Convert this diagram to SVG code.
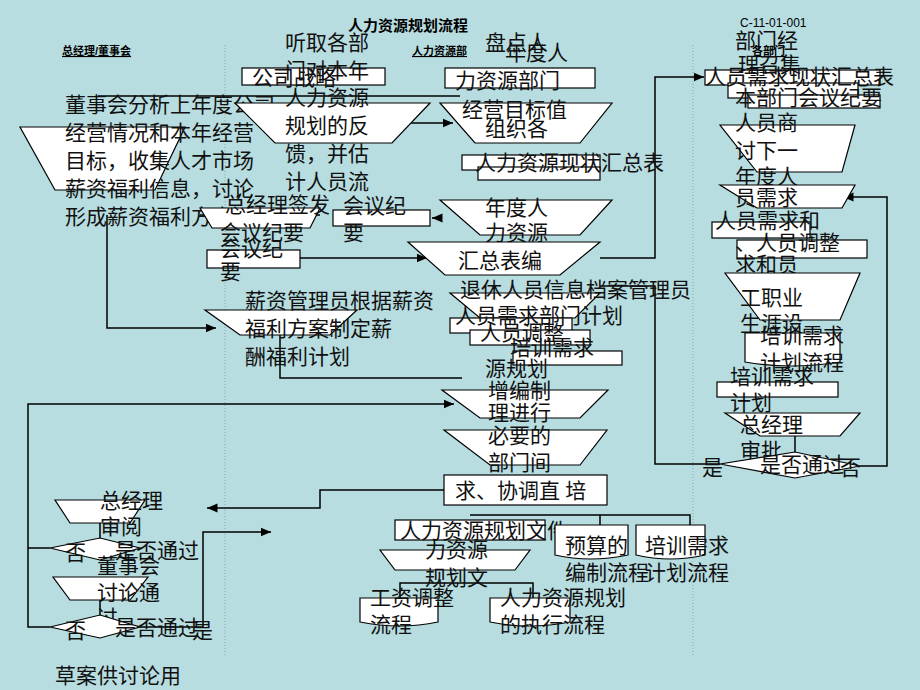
<svg xmlns="http://www.w3.org/2000/svg" width="920" height="690" viewBox="0 0 920 690">
<style>
.s{fill:#fff;stroke:#000;stroke-width:1.2}
.l{fill:none;stroke:#000;stroke-width:1.5}
.t{font-family:"Liberation Serif","Noto Sans CJK SC",serif;font-size:21px;fill:#111}
.h{font-family:"Liberation Sans","Noto Sans CJK SC",sans-serif;font-size:11px;font-weight:bold;text-decoration:underline}
.d{stroke:#8aa;stroke-width:1;stroke-dasharray:1 2}
</style>
<defs><marker id="a" markerWidth="8" markerHeight="8" refX="7" refY="4" orient="auto"><path d="M0,1 L7,4 L0,7z"/></marker></defs>
<rect width="920" height="690" fill="#b7dde0"/>
<line class="d" x1="225" y1="45" x2="225" y2="655"/>
<line class="d" x1="693" y1="45" x2="693" y2="655"/>
<text x="348" y="31" font-family="Liberation Sans,Noto Sans CJK SC,sans-serif" font-size="15" font-weight="bold">人力资源规划流程</text>
<text x="740" y="27" font-family="Liberation Sans,sans-serif" font-size="12">C-11-01-001</text>
<text class="h" x="62" y="55">总经理/董事会</text>
<text class="h" x="412" y="55">人力资源部</text>
<text class="h" x="752" y="55">各部门</text>
<g id="connectors">
<path class="l" d="M98,96 H460"/>
<path class="l" d="M392,123 H453" marker-end="url(#a)"/>
<path class="l" d="M107,215 V328 H216" marker-end="url(#a)"/>
<path class="l" d="M200,215 H320"/>
<path class="l" d="M442,218 H432" marker-end="url(#a)"/>
<path class="l" d="M300,258 H427" marker-end="url(#a)"/>
<path class="l" d="M280,335 V378 H462"/>
<path class="l" d="M28,548 V404 H454" marker-end="url(#a)"/>
<path class="l" d="M50,548 H28 M50,627 H28 V548"/>
<path class="l" d="M140,627 H203 V532 H271" marker-end="url(#a)"/>
<path class="l" d="M455,490 H320 V508 H207" marker-end="url(#a)"/>
<path class="l" d="M470,515 H690 V525 M600,515 V525"/>
<path class="l" d="M400,598 V583 H533 V598"/>
<path class="l" d="M100,523 V538 M100,600 V615"/>
<path class="l" d="M600,258 H655 V77 H704" marker-end="url(#a)"/>
<path class="l" d="M600,286 H655 V464 H720"/>
<path class="l" d="M860,466 H887 V197 H843" marker-end="url(#a)"/>
<path class="l" d="M795,436 V452"/>
</g>
<g id="n1"><path class="s" d="M20,127 H185 L155,190 H55z"/>
<text class="t" x="65" y="112">董事会分析上年度公司</text><text class="t" x="65" y="140">经营情况和本年经营</text><text class="t" x="65" y="168">目标，收集人才市场</text><text class="t" x="65" y="196">薪资福利信息，讨论</text><text class="t" x="65" y="224">形成薪资福利方案</text></g>
<g id="n2"><rect class="s" x="242" y="68" width="143" height="17"/><text class="t" x="252" y="85">公司战略</text></g>
<g id="n3"><path class="s" d="M235,103 H430 L392,143 H275z"/>
<text class="t" x="285" y="50">听取各部</text><text class="t" x="285" y="78">门对本年</text><text class="t" x="285" y="105">人力资源</text><text class="t" x="285" y="133">规划的反</text><text class="t" x="285" y="161">馈，并估</text><text class="t" x="285" y="189">计人员流</text></g>
<g id="n4"><path class="s" d="M200,208 H320 L310,228 H212z"/><text class="t" x="225" y="212">总经理签发</text><text class="t" x="220" y="240">会议纪要</text></g>
<g id="n5"><rect class="s" x="333" y="210" width="97" height="16"/><text class="t" x="343" y="213">会议纪</text><text class="t" x="343" y="240">要</text></g>
<g id="n6"><rect class="s" x="207" y="250" width="93" height="18"/><text class="t" x="220" y="256">会议纪</text><text class="t" x="220" y="279">要</text></g>
<g id="n7"><path class="s" d="M205,310 H357 L330,335 H240z"/><text class="t" x="245" y="308">薪资管理员根据薪资</text><text class="t" x="245" y="336">福利方案制定薪</text><text class="t" x="245" y="364">酬福利计划</text></g>
<g id="n8"><rect class="s" x="445" y="68" width="150" height="20"/><path class="s" d="M440,103 H612 L580,143 H475z"/>
<text class="t" x="485" y="50">盘点人</text><text class="t" x="505" y="60">年度人</text><text class="t" x="455" y="88">力资源部门</text><text class="t" x="462" y="117">经营目标值</text><text class="t" x="485" y="136">组织各</text></g>
<g id="n9"><rect class="s" x="462" y="155" width="138" height="15"/><rect class="s" x="478" y="167" width="122" height="13"/><text class="t" x="475" y="170">人力资源现状汇总表</text></g>
<g id="n10"><path class="s" d="M440,200 H612 L580,235 H480z"/><text class="t" x="485" y="215">年度人</text><text class="t" x="485" y="240">力资源</text></g>
<g id="n11"><path class="s" d="M408,242 H600 L560,275 H445z"/><text class="t" x="458" y="268">汇总表编</text></g>
<g id="n12"><path class="s" d="M450,293 H600 L575,318 H480z"/><rect class="s" x="450" y="318" width="122" height="15"/><rect class="s" x="470" y="330" width="120" height="15"/><rect class="s" x="513" y="351" width="109" height="14"/>
<text class="t" x="460" y="297">退休人员信息档案管理员</text><text class="t" x="455" y="323">人员需求部门计划</text><text class="t" x="480" y="340">人员调整</text><text class="t" x="510" y="355">培训需求</text><text class="t" x="485" y="376">源规划</text></g>
<g id="n13"><path class="s" d="M442,390 H608 L580,418 H480z"/><text class="t" x="488" y="398">增编制</text><text class="t" x="488" y="420">理进行</text></g>
<g id="n14"><path class="s" d="M444,430 H607 L580,465 H490z"/><text class="t" x="488" y="443">必要的</text><text class="t" x="488" y="470">部门间</text></g>
<g id="n15"><rect class="s" x="444" y="475" width="163" height="30"/><text class="t" x="455" y="498">求、协调直 培</text></g>
<g id="n16"><rect class="s" x="395" y="520" width="150" height="20"/><text class="t" x="400" y="538">人力资源规划文件</text></g>
<g id="n17"><path class="s" d="M380,550 H530 L515,570 H395z"/><text class="t" x="425" y="557">力资源</text><text class="t" x="425" y="585">规划文</text></g>
<g id="n18"><path class="s" d="M360,598 H438 V622 Q400,630 360,622z"/><text class="t" x="370" y="605">工资调整</text><text class="t" x="370" y="632">流程</text></g>
<g id="n19"><path class="s" d="M490,598 H570 V622 Q530,630 490,622z"/><text class="t" x="500" y="605">人力资源规划</text><text class="t" x="500" y="632">的执行流程</text></g>
<g id="n20"><path class="s" d="M555,525 H628 V555 Q590,563 555,555z"/><text class="t" x="565" y="553">预算的</text><text class="t" x="565" y="580">编制流程</text></g>
<g id="n21"><path class="s" d="M636,525 H705 V555 Q670,563 636,555z"/><text class="t" x="645" y="553">培训需求</text><text class="t" x="645" y="580">计划流程</text></g>
<g id="n22"><path class="s" d="M55,500 H145 L130,523 H70z"/><text class="t" x="100" y="508">总经理</text><text class="t" x="100" y="534">审阅</text></g>
<g id="n23"><path class="s" d="M50,548 L100,538 L140,548 L100,560z"/><text class="t" x="65" y="560">否</text><text class="t" x="115" y="558">是否通过</text></g>
<g id="n24"><path class="s" d="M53,577 H148 L130,600 H70z"/><text class="t" x="97" y="573">董事会</text><text class="t" x="97" y="600">讨论通</text><text class="t" x="97" y="625">过</text></g>
<g id="n25"><path class="s" d="M50,627 L100,615 L140,627 L100,638z"/><text class="t" x="65" y="638">否</text><text class="t" x="115" y="635">是否通过</text><text class="t" x="192" y="638">是</text></g>
<text class="t" x="55" y="683">草案供讨论用</text>
<g id="n26"><rect class="s" x="705" y="70" width="175" height="15"/><rect class="s" x="728" y="83" width="130" height="15"/><rect class="s" x="748" y="95" width="132" height="13"/>
<text class="t" x="735" y="48">部门经</text><text class="t" x="738" y="72">理召集</text><text class="t" x="705" y="84">人员需求现状汇总表</text><text class="t" x="735" y="105">本部门会议纪要</text></g>
<g id="n27"><path class="s" d="M720,125 H855 L842,172 H757z"/><text class="t" x="735" y="130">人员商</text><text class="t" x="735" y="158">讨下一</text><text class="t" x="735" y="184">年度人</text></g>
<g id="n28"><path class="s" d="M720,185 H855 L842,208 H757z"/><rect class="s" x="712" y="222" width="98" height="16"/><rect class="s" x="737" y="240" width="130" height="18"/>
<text class="t" x="735" y="205">员需求</text><text class="t" x="715" y="228">人员需求和</text><text class="t" x="735" y="250">、人员调整</text><text class="t" x="735" y="272">求和员</text></g>
<g id="n29"><path class="s" d="M725,273 H860 L840,320 H760z"/><text class="t" x="740" y="305">工职业</text><text class="t" x="740" y="331">生涯设</text></g>
<g id="n30"><path class="s" d="M745,333 H840 V362 Q790,370 745,362z"/><text class="t" x="760" y="343">培训需求</text><text class="t" x="760" y="370">计划流程</text></g>
<g id="n31"><rect class="s" x="717" y="382" width="121" height="15"/><text class="t" x="730" y="384">培训需求</text><text class="t" x="730" y="410">计划</text></g>
<g id="n32"><path class="s" d="M725,413 H860 L840,436 H760z"/><text class="t" x="740" y="432">总经理</text><text class="t" x="740" y="458">审批</text></g>
<g id="n33"><path class="s" d="M720,464 L795,452 L860,466 L795,478z"/><text class="t" x="702" y="475">是</text><text class="t" x="760" y="472">是否通过</text><text class="t" x="840" y="475">否</text></g>
</svg>
